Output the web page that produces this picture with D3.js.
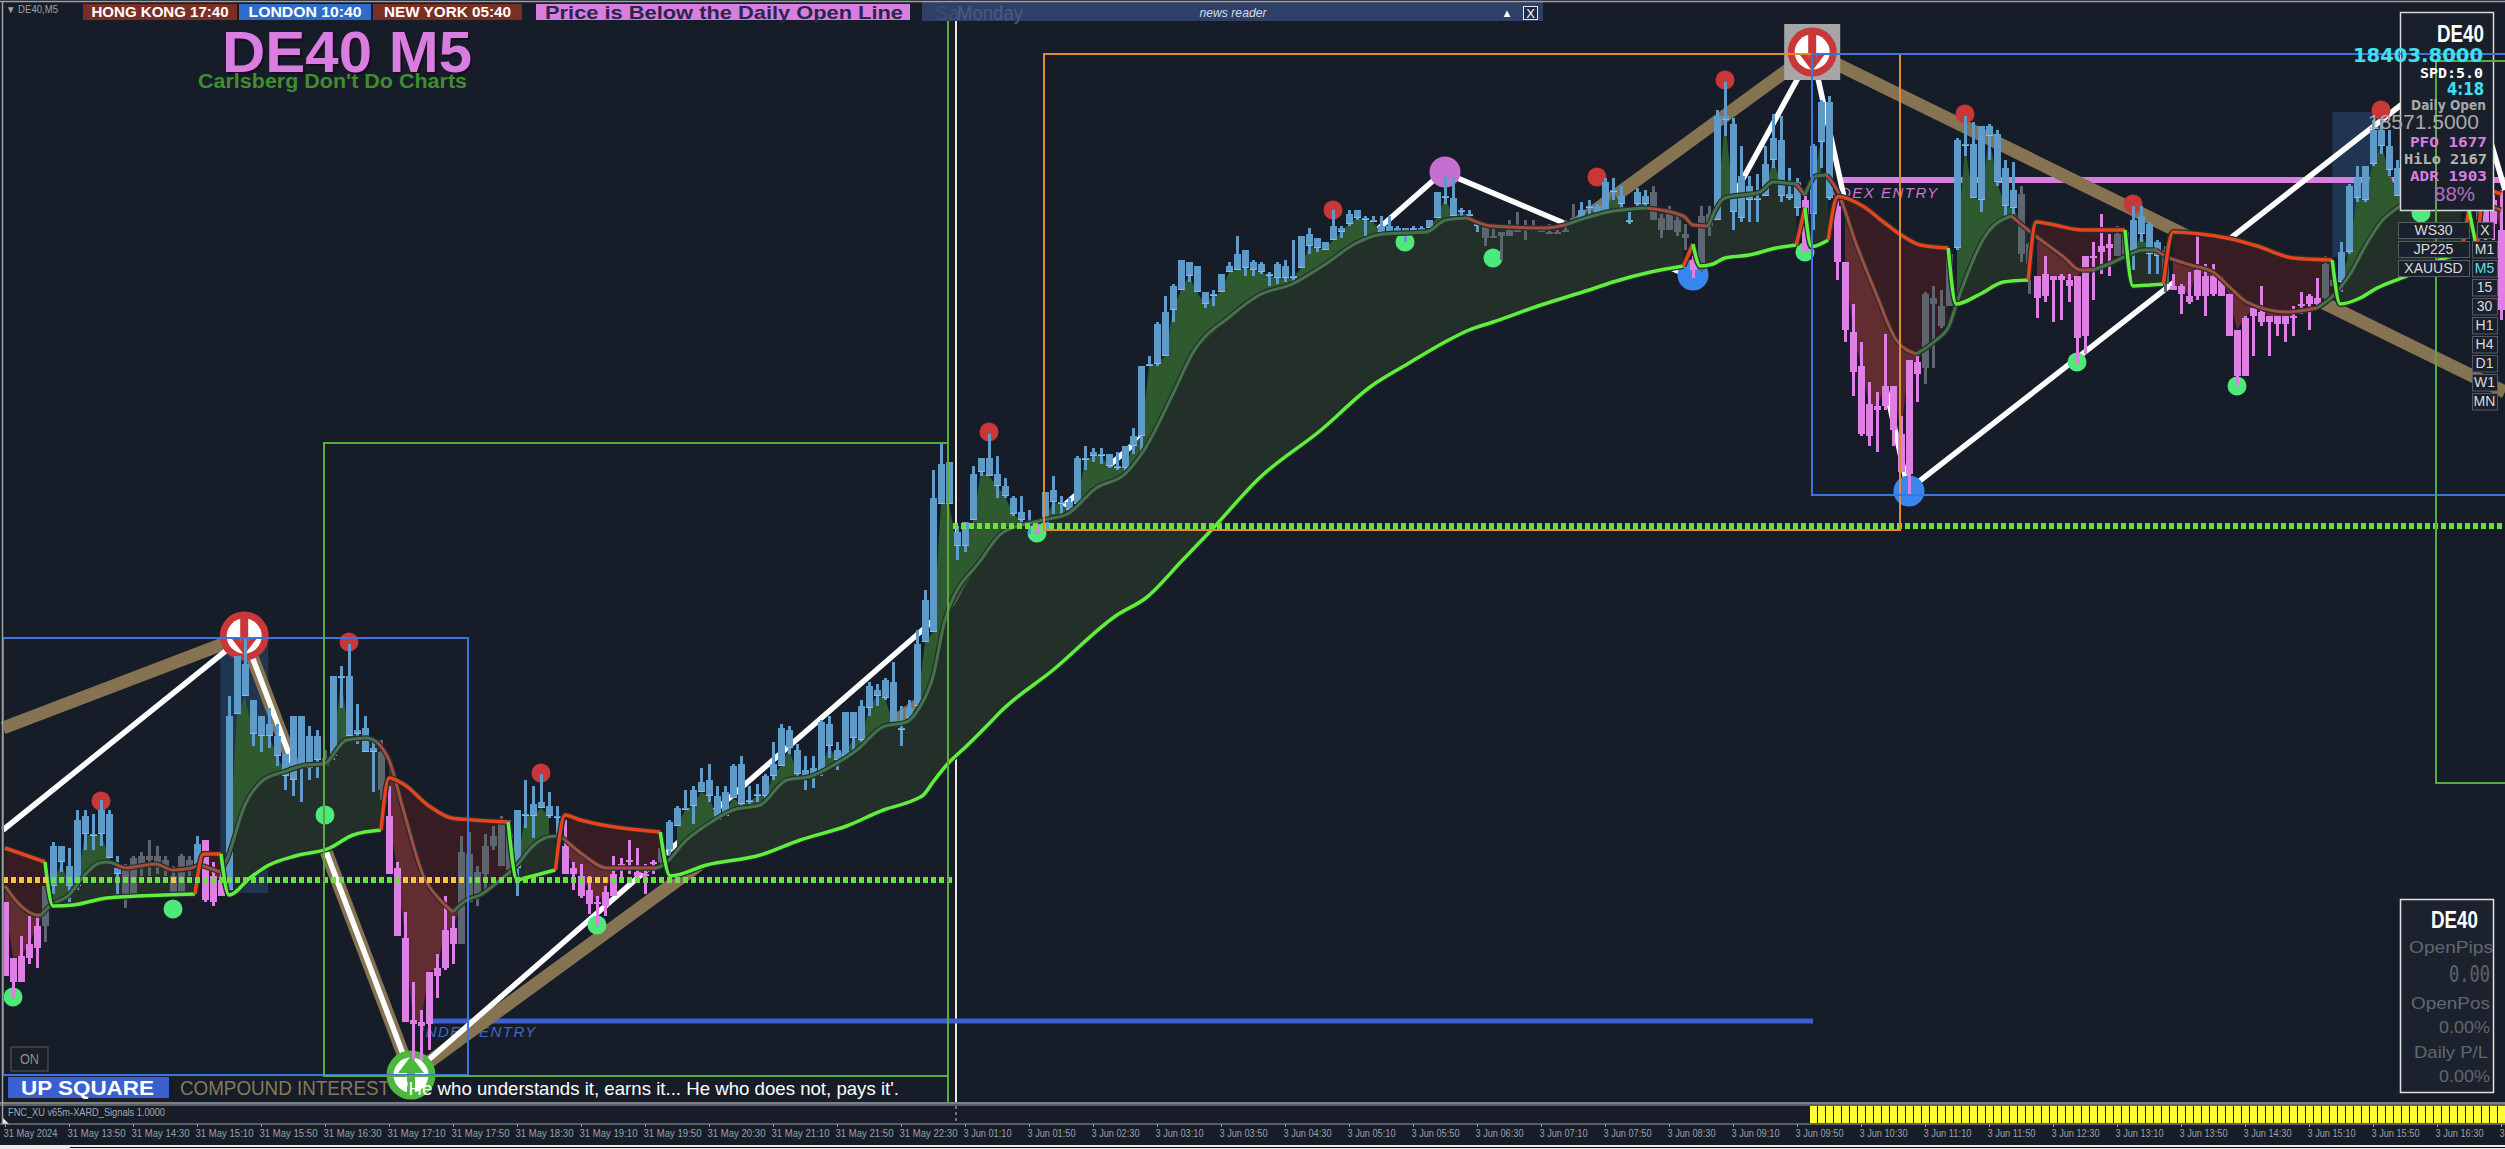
<!DOCTYPE html>
<html>
<head>
<meta charset="utf-8">
<title>DE40 M5</title>
<script src="https://cdn.jsdelivr.net/npm/d3@7"></script>
<style>
  html, body { margin: 0; padding: 0; background: #171d28; overflow: hidden; }
  svg { display: block; }
</style>
</head>
<body>
<div id="grafico"></div>
<script>
// all prices are points above 18000, one entry per M5 bar
const candleKinds = (
  "pppppgbbbb" + "bbbbbggggg" + "ggggbpppbb" + "bbbbbbbbbb" + "gbbbbbbgpp" +
  "pppppppggg" + "ggggbbbbbb" + "pppppppppp" + "ppgbbbbbbb" + "bbbbbbbbbb" +
  "bbbbbbbbbb" + "bbbbbbbbbb" + "bbbbbbbbbp" + "bbbbbbbbbb" + "bbbbbbbbbb" +
  "bbbbbbbbbb" + "bbbbbbbbbb" + "bbbbbbbbbb" + "bbbbbggggg" + "gggggggbbb" +
  "bbbbbbgggg" + "gpggbbbbbb" + "bbbbbpbbbp" + "pppppppppp" + "ggggbbbbbb" +
  "bbggpppppp" + "ppppggbbbb" + "gppppppppp" + "pppppppppp" + "ggbbbbbbbb" +
  "bbbbbbbppgppp").split("");

const highs = [
  209,181,192,202,202,217,239,237,236,255, 255,253,260,255,232,228,232,234,240,237,
  232,227,233,232,242,240,229,225,312,332, 341,310,302,306,298,283,302,302,297,295,
  285,322,327,338,308,302,290,290,267,229, 204,169,155,174,183,212,202,242,244,227,
  243,247,252,250,255,270,267,273,264,257, 250,229,228,222,212,217,232,231,240,236,
  228,230,237,250,257,265,267,276,278,267, 267,278,282,267,268,273,289,298,297,288,
  282,282,300,302,289,304,304,310,319,318, 321,329,307,310,345,365,425,438,429,397,
  399,427,431,443,432,421,412,412,405,400, 414,422,412,411,432,437,436,436,433,434,
  437,446,477,482,499,512,518,530,529,527, 514,515,523,529,542,535,530,529,524,529,
  530,540,542,546,541,539,555,547,555,555, 552,552,552,552,547,546,547,547,550,564,
  572,571,556,555,548,547,547,544,550,554, 550,550,547,548,545,550,558,559,560,558,
  571,571,567,556,566,565,567,553,557,552, 548,532,557,557,605,619,601,587,572,573,
  587,603,602,576,571,562,588,610,612,562, 529,508,489,469,464,493,467,452,480,482,
  514,517,515,535,591,602,599,597,598,595, 580,579,567,539,522,532,522,523,523,522,
  532,539,553,543,547,545,557,557,549,540, 537,523,518,524,542,528,528,522,513,495,
  502,506,517,502,502,502,507,514,513,521, 532,530,539,568,577,577,600,600,595,580,
  597,595,590,585,590,595,600,590,575,580,575,565,565];

const bodyTops = [
  209,181,182,188,197,217,237,237,227,250, 252,243,255,253,226,225,231,232,232,232,
  230,222,232,230,238,240,222,220,302,332, 328,310,302,298,292,283,302,302,292,292,
  281,322,322,322,295,296,286,284,252,226, 191,150,149,174,176,195,196,234,233,224,
  237,242,248,243,255,253,258,259,257,252, 237,226,222,215,209,214,223,228,230,224,
  223,229,236,249,256,256,265,269,270,262, 264,277,278,260,263,272,278,296,295,285,
  275,276,299,298,285,304,304,307,317,315, 320,319,296,306,338,360,411,428,429,394,
  399,423,431,431,423,417,411,404,399,394, 414,415,409,409,431,431,434,433,433,427,
  437,442,477,478,498,504,517,530,529,527, 514,513,523,527,533,535,529,528,523,528,
  527,522,542,543,541,539,547,546,553,555, 551,550,547,547,546,546,546,546,550,564,
  562,561,555,553,548,547,542,544,545,546, 546,546,545,544,544,545,551,555,557,557,
  569,565,562,550,564,562,564,551,555,550, 543,530,552,553,602,602,598,572,567,561,
  578,591,590,563,569,560,587,609,609,557, 529,494,477,458,457,467,467,443,480,479,
  513,511,507,533,590,588,588,597,597,593, 576,565,563,538,522,523,522,522,520,522,
  532,532,537,538,543,544,550,552,548,539, 535,517,517,512,525,522,522,520,513,495,
  501,506,504,502,502,502,502,508,512,511, 528,520,534,567,571,577,595,595,587,576,
  590,585,580,575,582,585,590,585,570,570,565,560,545];

const bodyBottoms = [
  172,169,169,181,186,197,217,229,217,217, 243,242,243,231,223,212,212,228,230,229,
  227,213,213,227,228,210,209,212,215,303, 312,293,292,292,282,272,270,276,276,280,
  277,282,321,292,293,284,284,265,223,192, 149,148,147,148,172,176,188,188,209,213,
  223,237,227,225,226,252,252,256,252,251, 223,223,212,208,208,207,212,227,229,222,
  222,228,229,235,247,255,257,264,262,250, 252,261,258,259,262,262,272,277,286,273,
  272,272,275,287,280,282,291,290,306,312, 311,298,295,301,307,339,344,408,408,387,
  387,400,424,422,417,412,403,400,398,393, 395,409,408,405,408,430,432,432,427,426,
  426,437,442,477,478,482,505,515,522,514, 508,512,514,524,525,526,525,524,522,521,
  521,521,526,537,536,535,540,544,548,551, 550,549,544,544,544,544,545,544,546,551,
  561,552,554,552,547,541,541,542,542,544, 545,545,544,543,543,544,548,550,556,552,
  553,564,558,549,558,558,550,545,545,544, 541,525,525,547,550,600,554,551,560,560,
  562,580,562,561,556,534,553,589,561,529, 495,474,443,442,455,457,445,424,423,473,
  476,508,497,507,536,587,561,560,592,569, 557,556,533,528,511,512,520,520,517,491,
  492,531,534,536,532,532,533,543,533,532, 518,515,513,509,512,512,513,512,492,472,
  472,502,499,499,498,498,501,507,508,508, 511,517,519,534,561,560,578,587,575,562,
  570,565,565,565,570,572,575,565,555,555,545,548,505];

const lows = [
  172,161,169,178,176,189,213,224,209,215, 235,235,237,231,213,206,212,222,222,223,
  222,213,213,222,222,209,207,212,215,303, 312,287,284,286,277,265,262,259,270,271,
  277,280,306,292,288,284,264,260,223,192, 149,130,130,135,161,175,178,188,209,207,
  215,235,227,222,212,246,241,256,251,243, 223,215,211,203,197,202,212,220,223,221,
  213,223,228,232,247,255,248,264,259,250, 252,261,257,258,259,261,270,277,283,272,
  265,266,272,281,275,282,284,289,302,307, 310,298,287,300,307,339,344,408,408,380,
  384,400,422,422,411,411,402,398,393,393, 395,403,403,404,407,425,429,428,426,425,
  423,433,433,477,477,482,499,515,519,514, 506,507,514,524,525,522,522,523,517,518,
  519,519,526,533,534,535,540,541,547,550, 542,549,543,544,543,539,544,544,546,551,
  558,552,552,551,544,537,541,530,542,544, 540,545,544,543,543,544,548,550,552,552,
  553,560,556,548,556,557,550,541,545,542, 535,521,524,542,550,592,545,549,549,549,
  562,576,559,560,552,534,545,576,560,520, 489,462,442,437,434,455,437,424,413,459,
  468,476,496,507,535,582,561,554,580,567, 552,553,529,513,501,509,499,500,509,478,
  483,510,523,522,532,532,525,539,523,523, 514,515,503,508,510,502,512,512,492,467,
  472,482,497,482,492,489,492,503,495,507, 510,517,514,533,559,559,577,583,572,562,
  565,560,555,560,565,565,568,555,545,550,540,540,500];

// slow line, one list per trend leg
const slowDirs = ["down","up","down","up","down","up","down","up","down","up","down","up","down","up","down","up","down","up","down","up","down"];
const slowBars = [
  [0,5],
  [5,6,8.5,12.7,19.8,23.75],
  [23.75,24.8,27],
  [27,28,30.6,33,36.25,40.6,43.5,47],
  [47,48,49.8,53,55.8,58.5,62.9],
  [62.9,64,65,68.8],
  [68.8,70,71.9,75.4,81.9],
  [81.9,83.15,87.7,94.4,99.4,105.2,109.8,113.6,114.8,116,117.7,120.2,123.2,124.4,131,139,142.6,147.2,150.8,156.8,164.5,170.8,175.3,180,183,186,192,198,201,205.7,209.8],
  [209.8,211],
  [211,211.9,213.5,215,218,221.4,223.9],
  [223.9,225],
  [225,225.8,227.9],
  [227.9,229.1,232.3,234.8,237.3,239.4,242.9],
  [242.9,243.9,246.9,249.8,252.9],
  [252.9,253.9,255.6,259.6,265],
  [265,266,268.1,269.8],
  [269.8,271,274.4,277.7,281.5,286,290.9],
  [290.9,291.9,294.4,296.5,300.2,305,307],
  [307,308],
  [308,309],
  [309,310,312]
];
const slowPrices = [
  [236,229],
  [229,207,207.5,211,212.5,213],
  [213,233,233],
  [233,212.5,221,227.5,232,236,242.5,245],
  [245,271,268,257,251,250,249],
  [249,220,221,225],
  [225,252.5,250,247,244],
  [244,222,227.5,232.5,240,247,255,260,262.5,269,277.5,287,299,304,325,352.5,361,380,395,421,445,467,478,489,495,499,507.5,515,519,524,527],
  [527,538],
  [538,527,528,531,532.5,536,537.5],
  [537.5,556],
  [556,536.7,540],
  [540,561.7,556.7,549,541.7,537.5,536],
  [536,508,513,519,520],
  [520,549,548,545,545],
  [545,517,517.5,518],
  [518,544,543,541,537,531,530],
  [530,508,511,516,522,531,533],
  [533,555],
  [555,535],
  [535,565,563]
];

// fast line vertices, brown between each start and end bar, green elsewhere
const fastBars = [
  0,2,4,4.5,5.6,8,9.8,11.5,12.7,13.75,15.2,16.9,18.75,21,23.3,24.2,24.8,26.9,27.7,30,32.3,34.8,37.7,39.8,42.7,45.2,46.5,48,49.8,52.3,54.4,56,57.7,59.4,61.9,64,66,68,69.2,70,
  72.3,75.2,80.2,81.5,82.3,85.2,87.7,91,94.4,97.7,100.6,103.6,106.5,109.8,112.7,114.4,116,117.5,122,124.8,129.8,132.8,136.4,140,142.4,146,148.4,153.2,156.8,160.9,165.1,168.7,172.3,177.7,180.1,182.8,185.8,192.6,195,200.4,
  205.2,209.8,211,212.9,215,219.4,221,223.9,225,226.4,227.7,229,231.4,233.9,236.4,238.9,241.4,243,244.1,247.7,250.8,253.5,257.3,259.4,261,263,265,267.3,268.8,270.2,273.2,276,278.2,280.2,285.2,289,291,293,295.2,297,
  299.4,305,307,309,310,312];
const fastPrices = [
  217,207,202.5,202.5,207,212.5,221.7,228,229,228,226,227,228,225,226,227.5,227,224,230,257.5,270,274,277.5,278,290,291,289,280,255,222,210,204,210,212.5,220,227.5,237,241.6,242,240,
  232.5,226,226,226,227.5,240,247.5,255,257.5,270,271.7,277.5,285,296.7,299,306.7,321.7,350,380,394,400,403,416,423,435,463,483,502,512.5,518,528,538,543,544,550,551,547,546,547.5,554,
  556,552,547.5,547,561,564,569,568,562.5,572,572.5,565,538,513,490,483,490,497,510,543,552,543,531.7,525,525,528,531.7,535,535,531.7,527.5,524,516,509,504,506,512,522,538,549,
  557,570,572,560,558,555];
const fastBrownStarts = [0,13.75,24.8,46.5,70,182.8,205.2,223.9,227.7,250.8,268.8,307];
const fastBrownEnds = [4.5,24.2,26.9,56,81.5,195,212.9,225,238.9,261,289,313];

// markers sit on a bar at a price
const redDotBars = [12,43,67,123,166,199,215,245,266,297];
const redDotPrices = [259.5,339,273.5,444,555,571.5,620,603,558,605];
const greenDotBars = [1,21,40,74,129,175,186,225,259,279,302];
const greenDotPrices = [161.5,205.5,252.5,197.5,393.5,539,531,534,479,467,553.5];
const purpleDotBars = [180];
const purpleDotPrices = [574];
const blueDotBars = [211,238];
const blueDotPrices = [522.5,414.5];
const sellArrowBars = [29.9,225.9];
const sellArrowPrices = [342,634];
const buyArrowBars = [50.75];
const buyArrowPrices = [122.5];

// zigzag vertices
const tanBars = [-0.25,29.9,50.75,225.9,312.5];
const tanPrices = [296,342,122.5,634,464];
const whiteBars = [-0.25,29.9,50.75,114.4,179.75,210.6,225.9,237.9,307.5,312.5];
const whitePrices = [245,342,122.5,344,574,522,634,415,632.5,565];

// boxes
const boxColors = ["#3a74dc","#5aab3c","#e08c32","#3a74dc","#5aab3c"];
const boxLeftBars = [-0.25,39.9,129.9,225.9,303.9];
const boxRightBars = [57.9,117.9,236.9,320,320];
const boxTopPrices = [341,438.5,633,633,629.5];
const boxBottomPrices = [122.5,122,395,412.5,268.5];

// highlight blocks behind the push bars
const blockLeftBars = [26.9,290.9];
const blockRightBars = [32.9,297];
const blockTopPrices = [338,604];
const blockBottomPrices = [213.5,531.5];

const dailyOpenPrice = 570;
const prevOpenPrices = [220,397];
const prevOpenStartBars = [-0.25,118.5];
const prevOpenEndBars = [118.5,313];
const yellowStartBars = [-0.25,20.6,49.5,72.4];
const yellowEndBars = [5.5,21.7,58,75.2];
const indexLinePrice = 149.5;
const indexLineBars = [52.9,226];

const timeTickBars = [0,8,16,24,32,40,48,56,64,72,80,88,96,104,112,120,128,136,144,152,160,168,176,184,192,200,208,216,224,232,240,248,256,264,272,280,288,296,304,312];
const timeLabels = [
  "31 May 2024","31 May 13:50","31 May 14:30","31 May 15:10","31 May 15:50","31 May 16:30","31 May 17:10","31 May 17:50",
  "31 May 18:30","31 May 19:10","31 May 19:50","31 May 20:30","31 May 21:10","31 May 21:50","31 May 22:30",
  "3 Jun 01:10","3 Jun 01:50","3 Jun 02:30","3 Jun 03:10","3 Jun 03:50","3 Jun 04:30","3 Jun 05:10","3 Jun 05:50","3 Jun 06:30",
  "3 Jun 07:10","3 Jun 07:50","3 Jun 08:30","3 Jun 09:10","3 Jun 09:50","3 Jun 10:30","3 Jun 11:10","3 Jun 11:50","3 Jun 12:30",
  "3 Jun 13:10","3 Jun 13:50","3 Jun 14:30","3 Jun 15:10","3 Jun 15:50","3 Jun 16:30","3 Jun 17:10"];

// yellow XARD signal histogram, bars 226 to 312
const signalStartBar = 226;
const signalValues = [
  1,1,1,1,1,1,1,1,1,1,1,1,1,1,1,1,1,1,1,1,1,1,1,1,1,1,1,1,1,1,
  1,1,1,1,1,1,1,1,1,1,1,1,1,1,1,1,1,1,1,1,1,1,1,1,1,1,1,1,1,1,
  1,1,1,1,1,1,1,1,1,1,1,1,1,1,1,1,1,1,1,1,1,1,1,1,1,1,1];

const symbolButtons = ["WS30","JP225","XAUUSD"];
const periodButtons = ["M1","M5","15","30","H1","H4","D1","W1","MN"];

const width = 2505;
const height = 1149;
const bgColor = "#171d28";
const sans = '"Liberation Sans", Arial, sans-serif';
const narrow = '"Liberation Sans Narrow", "Liberation Sans", sans-serif';
const mono = '"DejaVu Sans Mono", monospace';

const svg = d3.select("#grafico")
              .append("svg")
              .attr("width", width)
              .attr("height", height);

const xScale = d3.scaleLinear().domain([0, 312]).range([5, 2501]);
const yScale = d3.scaleLinear().domain([85.5, 660]).range([1149, 0]);

const plotLine = d3.line().x(d => xScale(d[0])).y(d => yScale(d[1]));
const smoothLine = d3.line().x(d => xScale(d[0])).y(d => yScale(d[1])).curve(d3.curveMonotoneX);
const fastAt = d3.scaleLinear().domain(fastBars).range(fastPrices);

function label(parent, x, y, text, o = {}) {
    const t = parent.append("text")
                    .attr("x", x)
                    .attr("y", y)
                    .attr("font-family", o.family || sans)
                    .attr("font-size", o.size || 14)
                    .attr("font-weight", o.weight || "normal")
                    .attr("font-style", o.style || "normal")
                    .attr("fill", o.fill || "#fff")
                    .attr("text-anchor", o.anchor || "start")
                    .text(text);
    if (o.len) t.attr("textLength", o.len).attr("lengthAdjust", "spacingAndGlyphs");
    if (o.spacing) t.attr("letter-spacing", o.spacing);
    return t;
}

svg.append("rect").attr("width", width).attr("height", height).attr("fill", bgColor);

// blocks, level lines and zigzags all sit under the cloud
svg.append("g").selectAll("rect")
   .data(blockLeftBars)
   .join("rect")
   .attr("x", d => xScale(d))
   .attr("width", (d, i) => xScale(blockRightBars[i]) - xScale(d))
   .attr("y", (d, i) => yScale(blockTopPrices[i]))
   .attr("height", (d, i) => yScale(blockBottomPrices[i]) - yScale(blockTopPrices[i]))
   .attr("fill", "#1f3550");

const under = svg.append("g");

under.append("line")
     .attr("x1", 956).attr("x2", 956).attr("y1", 20).attr("y2", 1102)
     .attr("stroke", "#e8e8e8").attr("stroke-width", 2)
     .attr("shape-rendering", "crispEdges");

under.append("line")
     .attr("x1", xScale(229.6)).attr("x2", width)
     .attr("y1", yScale(dailyOpenPrice)).attr("y2", yScale(dailyOpenPrice))
     .attr("stroke", "#da7de0").attr("stroke-width", 6);

under.append("line")
     .attr("x1", xScale(indexLineBars[0])).attr("x2", xScale(indexLineBars[1]))
     .attr("y1", yScale(indexLinePrice)).attr("y2", yScale(indexLinePrice))
     .attr("stroke", "#3a5fd0").attr("stroke-width", 5);

label(under, 420, 1037, "INDEX ENTRY", { size: 15, style: "italic", fill: "#3f68c8", spacing: 1.5, family: sans });
label(under, 1822, 198, "INDEX ENTRY", { size: 15, style: "italic", fill: "#c878d0", spacing: 1.5, family: sans });

under.append("path")
     .attr("d", plotLine(tanBars.map((d, i) => [d, tanPrices[i]])))
     .attr("fill", "none").attr("stroke", "#857352").attr("stroke-width", 13);

under.append("path")
     .attr("d", plotLine(whiteBars.map((d, i) => [d, whitePrices[i]])))
     .attr("fill", "none").attr("stroke", "#fdfdfd").attr("stroke-width", 5.5);

// cloud between the slow and fast lines, then fast line to the candle body
const cloud = svg.append("g");

slowBars.forEach((bars, s) => {
    const up = slowDirs[s] === "up";
    const start = s === 0 ? 0 : 1;
    const legBars = bars.slice(start);
    const legPrices = slowPrices[s].slice(start);
    if (legBars.length < 2) return;

    const first = legBars[0];
    const last = legBars[legBars.length - 1];
    const slowAt = d3.scaleLinear().domain(legBars).range(legPrices);
    const stops = Array.from(new Set(legBars.concat(fastBars.filter(b => b > first && b < last))))
                       .sort((a, b) => a - b);

    const cloudArea = d3.area()
                        .x(d => xScale(d))
                        .y0(d => yScale(slowAt(d)))
                        .y1(d => yScale(fastAt(d)));

    cloud.append("path")
         .attr("d", cloudArea(stops))
         .attr("fill", up ? "#233029" : "#371d23");

    const barList = d3.range(Math.ceil(first), Math.floor(last) + 1);
    const edge = i => {
        const f = fastAt(i);
        if (up && candleKinds[i] === "b") return Math.max(bodyBottoms[i], f);
        if (!up && candleKinds[i] === "p") return Math.min(bodyTops[i], f);
        return f;
    };
    const closeArea = d3.area()
                        .x(d => xScale(d))
                        .y0(d => yScale(fastAt(d)))
                        .y1(d => yScale(edge(d)));

    cloud.append("path")
         .attr("d", closeArea(barList))
         .attr("fill", up ? "#2f5a30" : "#622d30");
});

// markers
function dots(bars, prices, r, color) {
    svg.append("g").selectAll("circle")
       .data(bars)
       .join("circle")
       .attr("cx", d => xScale(d))
       .attr("cy", (d, i) => yScale(prices[i]))
       .attr("r", r)
       .attr("fill", color);
}

dots(redDotBars, redDotPrices, 9.5, "#c93838");
dots(greenDotBars, greenDotPrices, 9.5, "#4fe87a");
dots(purpleDotBars, purpleDotPrices, 15.5, "#c76fd0");
dots(blueDotBars, blueDotPrices, 15.5, "#3a86f0");

svg.append("rect")
   .attr("x", xScale(sellArrowBars[1]) - 28).attr("y", yScale(sellArrowPrices[1]) - 28)
   .attr("width", 56).attr("height", 56)
   .attr("fill", "#a6a6a6");

function arrowIcon(x, y, color, dir) {
    const g = svg.append("g").attr("transform", `translate(${x}, ${y}) scale(1, ${dir})`);
    g.append("circle").attr("r", 24.5).attr("fill", color);
    g.append("circle").attr("r", 17.5).attr("fill", "#fff");
    g.append("rect").attr("x", -4).attr("y", -20).attr("width", 8).attr("height", 26).attr("fill", color);
    g.append("path").attr("d", "M-13,2 L-4,2 L-4,6 L4,6 L4,2 L13,2 L0,19 Z").attr("fill", color);
}

sellArrowBars.forEach((d, i) => arrowIcon(xScale(d), yScale(sellArrowPrices[i]), "#c93838", 1));
buyArrowBars.forEach((d, i) => arrowIcon(xScale(d), yScale(buyArrowPrices[i]), "#4cb93c", -1));

// candles
const kindColor = { b: "#5f9bc6", p: "#dd7fe3", g: "#5c6570" };
const candles = svg.append("g").attr("shape-rendering", "crispEdges");

candles.selectAll(".wick")
       .data(highs)
       .join("rect")
       .attr("class", "wick")
       .attr("x", (d, i) => xScale(i) - 1.5)
       .attr("width", 3)
       .attr("y", d => yScale(d))
       .attr("height", (d, i) => Math.max(1, yScale(lows[i]) - yScale(d)))
       .attr("fill", (d, i) => kindColor[candleKinds[i]]);

candles.selectAll(".body")
       .data(bodyTops)
       .join("rect")
       .attr("class", "body")
       .attr("x", (d, i) => xScale(i) - 3.5)
       .attr("width", 7)
       .attr("y", d => yScale(d))
       .attr("height", (d, i) => Math.max(2, yScale(bodyBottoms[i]) - yScale(d)))
       .attr("fill", (d, i) => kindColor[candleKinds[i]]);

candles.selectAll(".tick-close")
       .data(bodyBottoms.map((d, i) => i).filter(i => candleKinds[i] === "b"))
       .join("rect")
       .attr("class", "tick-close")
       .attr("x", i => xScale(i) - 3.5)
       .attr("width", 7)
       .attr("y", i => yScale(bodyBottoms[i]) - 1)
       .attr("height", 1)
       .attr("fill", "#c9a0dc");

// fast line runs, then the slow line legs
const isBrown = b => fastBrownStarts.some((s, i) => b >= s && b < fastBrownEnds[i]);
const fastRuns = [];
fastBars.forEach((b, i) => {
    if (i === fastBars.length - 1) return;
    const run = fastRuns[fastRuns.length - 1];
    const next = [fastBars[i + 1], fastPrices[i + 1]];
    if (run && run.brown === isBrown(b)) run.points.push(next);
    else fastRuns.push({ brown: isBrown(b), points: [[b, fastPrices[i]], next] });
});

const lines = svg.append("g").attr("fill", "none").attr("stroke-linejoin", "round");

lines.selectAll(".fast-under")
     .data(fastRuns)
     .join("path")
     .attr("class", "fast-under")
     .attr("d", d => smoothLine(d.points))
     .attr("stroke", "#252e2c").attr("stroke-width", 5.5);

lines.selectAll(".fast")
     .data(fastRuns)
     .join("path")
     .attr("class", "fast")
     .attr("d", d => smoothLine(d.points))
     .attr("stroke", d => d.brown ? "#a44c40" : "#44734a")
     .attr("stroke-width", 3);

const slowLegs = slowBars.map((bars, s) => bars.map((b, i) => [b, slowPrices[s][i]]));

lines.selectAll(".slow-under")
     .data(slowLegs)
     .join("path")
     .attr("class", "slow-under")
     .attr("d", d => smoothLine(d))
     .attr("stroke", "#252e2c").attr("stroke-width", 6);

lines.selectAll(".slow")
     .data(slowLegs)
     .join("path")
     .attr("class", "slow")
     .attr("d", d => smoothLine(d))
     .attr("stroke", (d, i) => slowDirs[i] === "up" ? "#5ef03c" : "#e8431c")
     .attr("stroke-width", 3.5);

// dashed open levels
const dashes = svg.append("g")
                  .attr("stroke-width", 6)
                  .attr("stroke-dasharray", "5 3")
                  .attr("shape-rendering", "crispEdges");

prevOpenPrices.forEach((price, i) => {
    dashes.append("line")
          .attr("x1", xScale(prevOpenStartBars[i])).attr("x2", xScale(prevOpenEndBars[i]))
          .attr("y1", yScale(price)).attr("y2", yScale(price))
          .attr("stroke", "#66e33c");
});

yellowStartBars.forEach((b, i) => {
    const x1 = xScale(b);
    dashes.append("line")
          .attr("x1", x1).attr("x2", xScale(yellowEndBars[i]))
          .attr("y1", yScale(prevOpenPrices[0])).attr("y2", yScale(prevOpenPrices[0]))
          .attr("stroke", "#f4c63a")
          .attr("stroke-dashoffset", (x1 - xScale(prevOpenStartBars[0])) % 8);
});

// stats panel and buttons cover the candles
svg.append("rect")
   .attr("x", 2400.5).attr("y", 12.5).attr("width", 93).attr("height", 198)
   .attr("fill", "#1a202b").attr("stroke", "#d8d8d8").attr("stroke-width", 1.5);

const boxes = svg.append("g")
                 .attr("fill", "none")
                 .attr("stroke-width", 2)
                 .attr("shape-rendering", "crispEdges");

boxes.selectAll("rect")
     .data(boxLeftBars)
     .join("rect")
     .attr("x", d => xScale(d))
     .attr("width", (d, i) => xScale(boxRightBars[i]) - xScale(d))
     .attr("y", (d, i) => yScale(boxTopPrices[i]))
     .attr("height", (d, i) => yScale(boxBottomPrices[i]) - yScale(boxTopPrices[i]))
     .attr("stroke", (d, i) => boxColors[i]);

svg.append("line")
   .attr("x1", 948).attr("x2", 948).attr("y1", 20).attr("y2", 1102)
   .attr("stroke", "#5aab3c").attr("stroke-width", 2)
   .attr("shape-rendering", "crispEdges");

const panel = svg.append("g");

label(panel, 2484, 42, "DE40", { size: 23, weight: "bold", anchor: "end", family: narrow, len: 47 });
label(panel, 2483, 62, "18403.8000", { size: 20, weight: "bold", fill: "#3fe0f0", anchor: "end", len: 130, family: "DejaVu Sans" });
label(panel, 2483, 78, "SPD:5.0", { size: 14, weight: "bold", anchor: "end", family: mono, len: 63 });
label(panel, 2484, 95, "4:18", { size: 17, weight: "bold", fill: "#3fe0f0", anchor: "end", family: "DejaVu Sans", len: 37 });
label(panel, 2486, 110, "Daily Open", { size: 14, weight: "bold", fill: "#a9a9a9", anchor: "end", family: "DejaVu Sans", len: 75 });
label(panel, 2479, 129, "18571.5000", { size: 20, fill: "#a9a9a9", anchor: "end", len: 111 });
label(panel, 2487, 147, "PFO 1677", { size: 14, weight: "bold", fill: "#da7de0", anchor: "end", family: mono, len: 77 });
label(panel, 2487, 164, "HiLo 2167", { size: 14, weight: "bold", fill: "#b4b4b4", anchor: "end", family: mono, len: 83 });
label(panel, 2487, 181, "ADR 1903", { size: 14, weight: "bold", fill: "#da7de0", anchor: "end", family: mono, len: 77 });
label(panel, 2475, 201, "88%", { size: 21, fill: "#b26fc0", anchor: "end", len: 41 });

function button(x, y, w, h, text, color) {
    panel.append("rect")
         .attr("x", x + 0.5).attr("y", y + 0.5).attr("width", w).attr("height", h)
         .attr("fill", "#1b212c").attr("stroke", "#565b63");
    label(panel, x + w / 2, y + h - 3.5, text, { size: 14, fill: color || "#dcdcdc", anchor: "middle" });
}

symbolButtons.forEach((d, i) => button(2398, 222 + i * 19, 71, 16, d));
button(2477, 222, 16, 16, "X");
periodButtons.forEach((d, i) => button(2472, 241 + i * 19, 25, 16.5, d, d === "M5" ? "#55e0e8" : null));

// lower right panel
panel.append("rect")
     .attr("x", 2400.5).attr("y", 899.5).attr("width", 93).attr("height", 193)
     .attr("fill", "#1b222d").attr("stroke", "#e2e2e2").attr("stroke-width", 1.5);

label(panel, 2478, 928, "DE40", { size: 23, weight: "bold", anchor: "end", family: narrow, len: 47 });
label(panel, 2409, 953, "OpenPips", { size: 17, fill: "#62676f", len: 84 });
label(panel, 2490, 982, "0.00", { size: 23, fill: "#5d6269", anchor: "end", family: mono, len: 41 });
label(panel, 2411, 1009, "OpenPos", { size: 17, fill: "#62676f", len: 79 });
label(panel, 2490, 1033, "0.00%", { size: 17, fill: "#62676f", anchor: "end", len: 51 });
label(panel, 2414, 1058, "Daily P/L", { size: 17, fill: "#62676f", len: 74 });
label(panel, 2490, 1082, "0.00%", { size: 17, fill: "#62676f", anchor: "end", len: 51 });

// top strip
const topBar = svg.append("g");

label(topBar, 6, 13, "▼ DE40,M5", { size: 10, fill: "#9da2a9", family: narrow, len: 52 });

const badgeX = [83,239,373];
const badgeW = [154,132,149];
const badgeFill = ["#7b2f24","#2d6cc8","#7b2f24"];
const badgeText = ["HONG KONG  17:40","LONDON   10:40","NEW YORK  05:40"];
const badgeLen = [137,113,127];

badgeX.forEach((x, i) => {
    topBar.append("rect").attr("x", x).attr("y", 4).attr("width", badgeW[i]).attr("height", 16).attr("fill", badgeFill[i]);
    label(topBar, x + badgeW[i] / 2, 17, badgeText[i], { size: 14, weight: "bold", anchor: "middle", len: badgeLen[i], family: narrow });
});

topBar.append("rect").attr("x", 536).attr("y", 4).attr("width", 374).attr("height", 16).attr("fill", "#da7de0");
label(topBar, 545, 18.5, "Price is Below the Daily Open Line", { size: 18.5, weight: "bold", fill: "#29264a", len: 358 });

label(topBar, 222, 72, "DE40 M5", { size: 58, weight: "bold", fill: "#da7de0", len: 250 })
    .style("filter", "drop-shadow(2px 2px 0 #1a0b20)");
label(topBar, 198, 88, "Carlsberg Don't Do Charts", { size: 20, weight: "bold", fill: "#3e8e2e", len: 269 });

topBar.append("rect").attr("x", 922).attr("y", 2).attr("width", 621).attr("height", 19).attr("fill", "#2f4068");
label(topBar, 935, 20, "Sa", { size: 20, fill: "#3f4d70" });
label(topBar, 957, 20, "Monday", { size: 20, fill: "#4a5a80", len: 66 });
label(topBar, 1233, 17, "news reader", { size: 13, style: "italic", fill: "#d8dbe4", anchor: "middle", len: 67 });
label(topBar, 1507, 17, "▲", { size: 11, anchor: "middle" });
topBar.append("rect").attr("x", 1523.5).attr("y", 6.5).attr("width", 14).attr("height", 13)
      .attr("fill", "#1f2a44").attr("stroke", "#e8e8e8");
label(topBar, 1530.5, 17.5, "X", { size: 13, anchor: "middle" });

// bottom banner
const banner = svg.append("g");

banner.append("rect")
      .attr("x", 11).attr("y", 1047).attr("width", 37).attr("height", 24)
      .attr("fill", "#1a1e26").attr("stroke", "#565b63");
label(banner, 29.5, 1064, "ON", { size: 14, fill: "#8a8f96", anchor: "middle", len: 19, family: narrow });

banner.append("rect").attr("x", 8).attr("y", 1077).attr("width", 161).attr("height", 21).attr("fill", "#3a5fd0");
label(banner, 21, 1095, "UP SQUARE", { size: 21, weight: "bold", len: 133, family: sans });
label(banner, 180, 1095, "COMPOUND INTEREST", { size: 20, fill: "#857a5a", len: 210 });
label(banner, 405, 1095, "'He who understands it, earns it... He who does not, pays it'.", { size: 19, len: 494 });

// window frame
const frame = svg.append("g").attr("stroke", "#a0a0a0");

frame.append("line").attr("x1", 0).attr("x2", width).attr("y1", 1.5).attr("y2", 1.5).attr("stroke-width", 1.5);
frame.append("line").attr("x1", 2.5).attr("x2", 2.5).attr("y1", 1).attr("y2", 1124).attr("stroke-width", 1.5);
frame.append("line").attr("x1", 0).attr("x2", width).attr("y1", 1103).attr("y2", 1103).attr("stroke-width", 1.5);
frame.append("line").attr("x1", 0).attr("x2", width).attr("y1", 1105).attr("y2", 1105).attr("stroke-width", 1);

// sub window with signal histogram
const signalScale = d3.scaleLinear().domain([0, 1]).range([1123, 1106]);

svg.append("g").selectAll("rect")
   .data(signalValues)
   .join("rect")
   .attr("x", (d, i) => xScale(signalStartBar + i) - 3.5)
   .attr("width", 7)
   .attr("y", d => signalScale(d))
   .attr("height", d => signalScale(0) - signalScale(d))
   .attr("fill", "#ffff33")
   .attr("shape-rendering", "crispEdges");

label(svg, 8, 1116, "FNC_XU v65m-XARD_Signals 1.0000", { size: 11, fill: "#a4a8ae", family: narrow, len: 157 });

svg.append("path").attr("d", "M3,1118 L9,1124 L3,1124 Z").attr("fill", "#e8e8e8");

svg.append("line")
   .attr("x1", 956).attr("x2", 956).attr("y1", 1106).attr("y2", 1124)
   .attr("stroke", "#c8c8c8").attr("stroke-dasharray", "3 3");

// time axis
const xAxisCall = d3.axisBottom(xScale)
                    .tickValues(timeTickBars)
                    .tickFormat((d, i) => timeLabels[i])
                    .tickSize(3);

const xAxis = svg.append("g")
                 .attr("transform", "translate(0, 1124)")
                 .call(xAxisCall);

xAxis.select(".domain").remove();
xAxis.selectAll(".tick line").attr("stroke", "#a0a0a0");
xAxis.selectAll(".tick text")
     .attr("text-anchor", "start")
     .attr("x", -2)
     .attr("y", 5)
     .attr("dy", "0.71em")
     .attr("fill", "#9aa0a8")
     .attr("font-family", narrow)
     .attr("font-size", 11)
     .attr("textLength", d => d < 120 ? (d === 0 ? 54 : 58) : 48)
     .attr("lengthAdjust", "spacingAndGlyphs");

svg.append("line").attr("x1", 0).attr("x2", width).attr("y1", 1124).attr("y2", 1124).attr("stroke", "#a0a0a0");
svg.append("rect").attr("x", 0).attr("y", 1145).attr("width", width).attr("height", 4).attr("fill", "#e9e9e9");
svg.append("line").attr("x1", 70).attr("x2", width).attr("y1", 1147.5).attr("y2", 1147.5).attr("stroke", "#111");
</script>
</body>
</html>
